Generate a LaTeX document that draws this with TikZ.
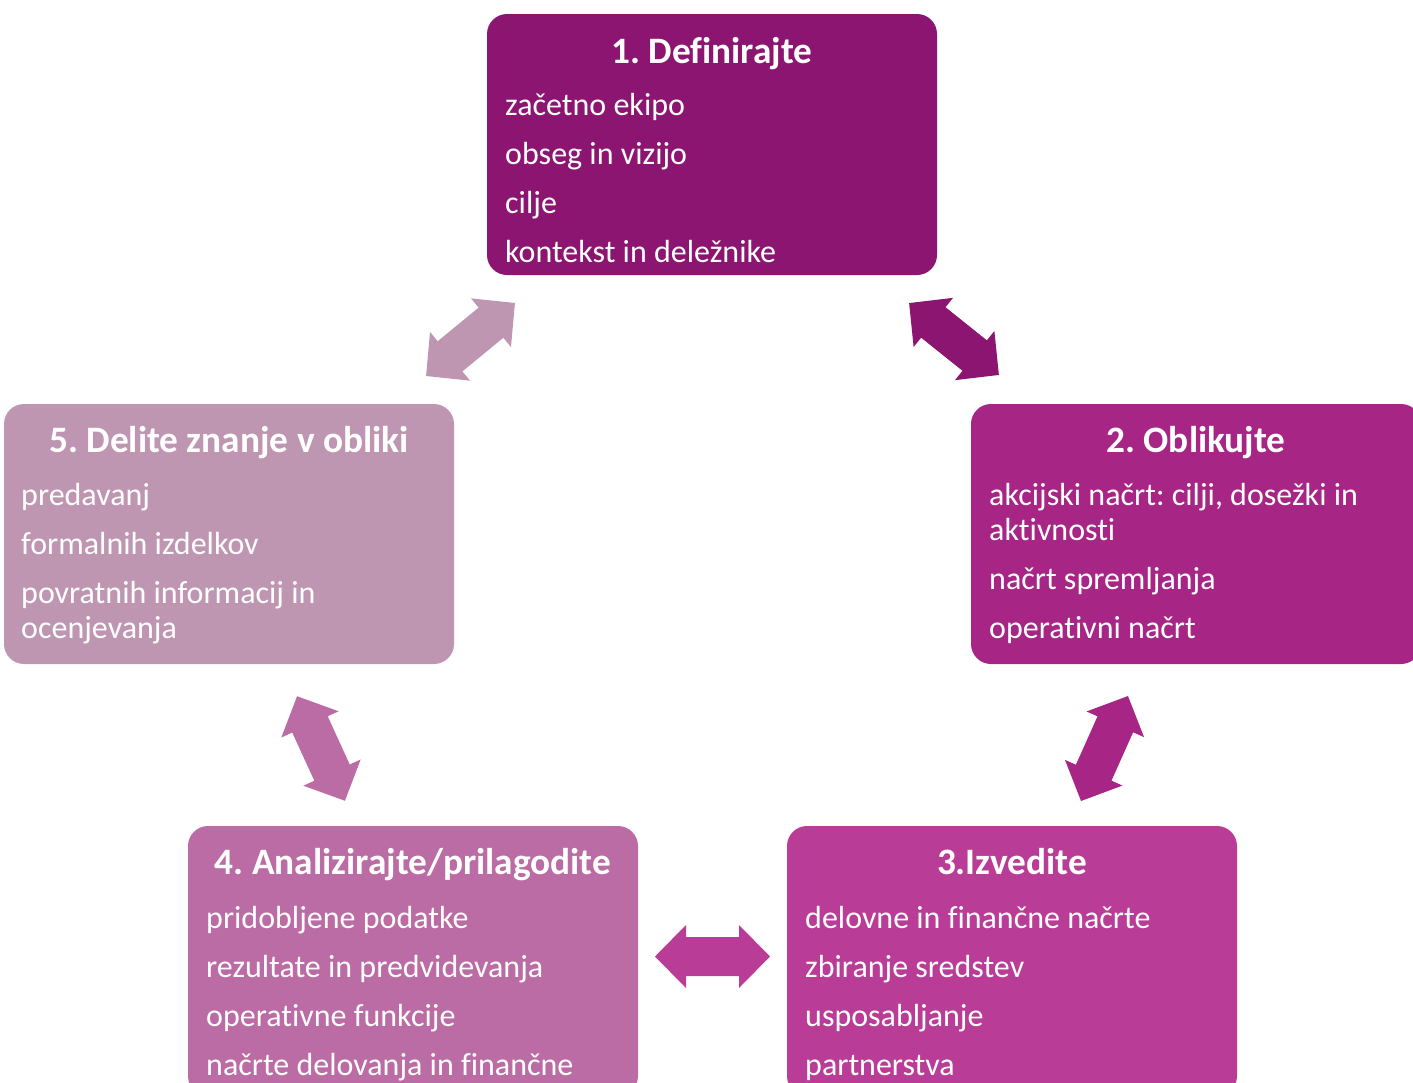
\documentclass[tikz,border=0pt]{standalone}
\usepackage{fontspec}
\setmainfont{Carlito}[RawFeature={-liga;-dlig;-clig}]
\frenchspacing
\definecolor{cA}{HTML}{8B1570}
\definecolor{cB}{HTML}{A62585}
\definecolor{cC}{HTML}{B93D97}
\definecolor{cD}{HTML}{BB6CA5}
\definecolor{cE}{HTML}{BF96B2}
\tikzset{
  box/.style={rounded corners=20pt, minimum width=450pt, inner sep=0pt, draw=none},
  ttl/.style={anchor=base, inner sep=0pt, text=white, font=\fontsize{37.3}{41}\selectfont\bfseries\frenchspacing},
  itm/.style={anchor=base west, inner sep=0pt, text=white, font=\fontsize{32}{35}\selectfont\frenchspacing},
  dblarrow/.pic={
    \fill[pic actions] (-57.5,0) -- (-26.5,-31.5) -- (-26.5,-19.5) -- (26.5,-19.5) -- (26.5,-31.5)
      -- (57.5,0) -- (26.5,31.5) -- (26.5,19.5) -- (-26.5,19.5) -- (-26.5,31.5) -- cycle;
  }
}
\begin{document}
\begin{tikzpicture}[x=1pt,y=-1pt]
\useasboundingbox (0,0) rectangle (1413,1082);
\clip (0,0) rectangle (1413,1082);

% boxes
\node[box, fill=cA, minimum height=261pt] (b1) at (712,144.5) {};
\node[box, fill=cB, minimum height=260pt] (b2) at (1196,534) {};
\node[box, fill=cC, minimum height=270pt] (b3) at (1012,961) {};
\node[box, fill=cD, minimum height=270pt] (b4) at (413,961) {};
\node[box, fill=cE, minimum height=260pt] (b5) at (229,534) {};

% box 1
\node[ttl] (t1) at (712,63) {1. Definirajte};
\node[itm] (i11) at (505,115) {začetno ekipo};
\node[itm] (i12) at (505,164) {obseg in vizijo};
\node[itm] (i13) at (505,213) {cilje};
\node[itm] (i14) at (505,262) {kontekst in deležnike};

% box 2
\node[ttl] (t2) at (1196,452) {2. Oblikujte};
\node[itm] (i21) at (989,505) {akcijski načrt: cilji, dosežki in};
\node[itm] (i21b) at (989,540) {aktivnosti};
\node[itm] (i22) at (989,589) {načrt spremljanja};
\node[itm] (i23) at (989,638) {operativni načrt};

% box 3
\node[ttl] (t3) at (1012,874) {3.Izvedite};
\node[itm] (i31) at (805,928) {delovne in finančne načrte};
\node[itm] (i32) at (805,977) {zbiranje sredstev};
\node[itm] (i33) at (805,1026) {usposabljanje};
\node[itm] (i34) at (805,1075) {partnerstva};

% box 4
\node[ttl] (t4) at (413,874) {4. Analizirajte/prilagodite};
\node[itm] (i41) at (206,928) {pridobljene podatke};
\node[itm] (i42) at (206,977) {rezultate in predvidevanja};
\node[itm] (i43) at (206,1026) {operativne funkcije};
\node[itm] (i44) at (206,1075) {načrte delovanja in finančne};

% box 5
\node[ttl] (t5) at (229,452) {5. Delite znanje v obliki};
\node[itm] (i51) at (21,505) {predavanj};
\node[itm] (i52) at (21,554) {formalnih izdelkov};
\node[itm] (i53) at (21,603) {povratnih informacij in};
\node[itm] (i53b) at (21,638) {ocenjevanja};

% double arrows
\pic[fill=cE, rotate=39.4] at (470.5,339.5) {dblarrow};
\pic[fill=cA, rotate=-38.7] at (954,339) {dblarrow};
\pic[fill=cB, rotate=65.9] at (1104.5,748.5) {dblarrow};
\pic[fill=cC] at (712.5,956.5) {dblarrow};
\pic[fill=cD, rotate=-65.4] at (321,748.5) {dblarrow};
\end{tikzpicture}
\end{document}
